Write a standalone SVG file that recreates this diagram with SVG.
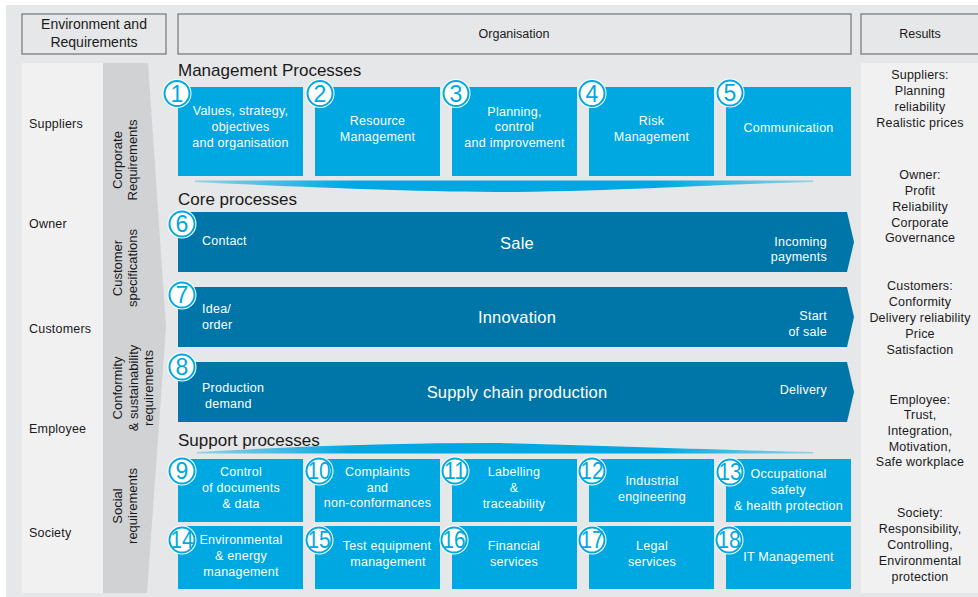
<svg xmlns="http://www.w3.org/2000/svg" width="978" height="597" viewBox="0 0 978 597">
<defs>
<style>
text{font-family:"Liberation Sans",Arial,sans-serif;}
.dk{fill:#1a1a1a;font-size:12.5px;letter-spacing:0.2px;}
.hd{fill:#1a1a1a;font-size:17px;}
.w{fill:#ffffff;font-size:12.5px;text-anchor:middle;letter-spacing:0.25px;}
.wl{fill:#ffffff;font-size:12.5px;letter-spacing:0.25px;}
.wr{fill:#ffffff;font-size:12.5px;text-anchor:end;letter-spacing:0.25px;}
.big{fill:#ffffff;font-size:16.5px;text-anchor:middle;letter-spacing:0.2px;}
.res{fill:#1a1a1a;font-size:12.5px;text-anchor:middle;letter-spacing:0.2px;}
.rot{fill:#1a1a1a;font-size:13px;text-anchor:middle;}
.lb{fill:#00a8e1;}
.db{fill:#0076a8;}
.hbox{fill:#e6e7e8;stroke:#8a8a8a;stroke-width:1.5;}
.co{fill:#ffffff;}
.ci{fill:#ffffff;stroke:#00a8e1;stroke-width:2;}
.num{fill:#00a8e1;font-size:23px;text-anchor:middle;}
</style>
<linearGradient id="band" x1="0" y1="0" x2="1" y2="0">
<stop offset="0" stop-color="#00a8e1" stop-opacity="0.35"/>
<stop offset="0.25" stop-color="#00a8e1" stop-opacity="1"/>
<stop offset="0.75" stop-color="#00a8e1" stop-opacity="1"/>
<stop offset="1" stop-color="#00a8e1" stop-opacity="0.35"/>
</linearGradient>
</defs>

<rect x="0" y="0" width="978" height="597" fill="#ffffff"/>
<rect x="6" y="5" width="972" height="592" fill="#e6e7e8"/>

<g id="headers">
<rect class="hbox" x="22" y="14" width="144" height="40"/>
<text x="94" y="29" style="font-size:14px;fill:#1a1a1a;text-anchor:middle">Environment and</text>
<text x="94" y="47" style="font-size:14px;fill:#1a1a1a;text-anchor:middle">Requirements</text>
<rect class="hbox" x="178" y="14" width="673" height="40"/>
<text x="514" y="38" style="font-size:12.5px;fill:#1a1a1a;text-anchor:middle">Organisation</text>
<rect class="hbox" x="861" y="14" width="125" height="40"/>
<text x="920" y="38" style="font-size:12.5px;fill:#1a1a1a;text-anchor:middle">Results</text>
</g>

<g id="environment">
<rect x="22" y="63" width="81" height="530" fill="#f1f1f2"/>
<polygon points="103,63 148,63 166,327 147,593 103,593" fill="#d1d2d4"/>
<text class="dk" x="29" y="128">Suppliers</text>
<text class="dk" x="29" y="228">Owner</text>
<text class="dk" x="29" y="333">Customers</text>
<text class="dk" x="29" y="433">Employee</text>
<text class="dk" x="29" y="537">Society</text>
<text class="rot" transform="translate(122,160) rotate(-90)">Corporate</text>
<text class="rot" transform="translate(137,160) rotate(-90)">Requirements</text>
<text class="rot" transform="translate(122,268) rotate(-90)">Customer</text>
<text class="rot" transform="translate(137,268) rotate(-90)">specifications</text>
<text class="rot" transform="translate(122,388) rotate(-90)">Conformity</text>
<text class="rot" transform="translate(137.5,388) rotate(-90)">&amp; sustainability</text>
<text class="rot" transform="translate(153,388) rotate(-90)">requirements</text>
<text class="rot" transform="translate(122,506) rotate(-90)">Social</text>
<text class="rot" transform="translate(137,506) rotate(-90)">requirements</text>
</g>

<g id="results">
<rect x="861" y="63" width="117" height="530" fill="#f1f1f2"/>
<text class="res" x="920" y="79">Suppliers:</text>
<text class="res" x="920" y="95">Planning</text>
<text class="res" x="920" y="111">reliability</text>
<text class="res" x="920" y="127">Realistic prices</text>
<text class="res" x="920" y="179">Owner:</text>
<text class="res" x="920" y="195">Profit</text>
<text class="res" x="920" y="211">Reliability</text>
<text class="res" x="920" y="227">Corporate</text>
<text class="res" x="920" y="242">Governance</text>
<text class="res" x="920" y="290">Customers:</text>
<text class="res" x="920" y="306">Conformity</text>
<text class="res" x="920" y="322">Delivery reliability</text>
<text class="res" x="920" y="338">Price</text>
<text class="res" x="920" y="354">Satisfaction</text>
<text class="res" x="920" y="404">Employee:</text>
<text class="res" x="920" y="419">Trust,</text>
<text class="res" x="920" y="435">Integration,</text>
<text class="res" x="920" y="451">Motivation,</text>
<text class="res" x="920" y="466">Safe workplace</text>
<text class="res" x="920" y="517">Society:</text>
<text class="res" x="920" y="533">Responsibility,</text>
<text class="res" x="920" y="549">Controlling,</text>
<text class="res" x="920" y="565">Environmental</text>
<text class="res" x="920" y="581">protection</text>
</g>

<g id="titles">
<text class="hd" x="178" y="76">Management Processes</text>
<text class="hd" x="178" y="205">Core processes</text>
<text class="hd" x="178" y="446">Support processes</text>
</g>

<g id="connectors">
<path d="M195,180.5 L813,180.5 L813,182 C720,184 640,190 515,192 C420,192 300,187 195,182 Z" fill="url(#band)"/>
<path d="M197,453.5 L813,453.5 L813,452 C720,450 620,446 500,443 C400,443 300,446 197,452 Z" fill="url(#band)"/>
</g>

<g id="p1">
<rect class="lb" x="178" y="87" width="125" height="89"/>
<text class="w" x="240.5" y="115">Values, strategy,</text>
<text class="w" x="240.5" y="131">objectives</text>
<text class="w" x="240.5" y="147">and organisation</text>
<circle class="co" cx="177" cy="93.5" r="14.5"/><circle class="ci" cx="177" cy="93.5" r="12.5"/>
<text class="num" x="177" y="101.5">1</text>
</g>
<g id="p2">
<rect class="lb" x="315" y="87" width="125" height="89"/>
<text class="w" x="377.5" y="125">Resource</text>
<text class="w" x="377.5" y="141">Management</text>
<circle class="co" cx="320" cy="93.5" r="14.5"/><circle class="ci" cx="320" cy="93.5" r="12.5"/>
<text class="num" x="320" y="101.5">2</text>
</g>
<g id="p3">
<rect class="lb" x="452" y="87" width="125" height="89"/>
<text class="w" x="514.5" y="116">Planning,</text>
<text class="w" x="514.5" y="131">control</text>
<text class="w" x="514.5" y="147">and improvement</text>
<circle class="co" cx="456" cy="93.5" r="14.5"/><circle class="ci" cx="456" cy="93.5" r="12.5"/>
<text class="num" x="456" y="101.5">3</text>
</g>
<g id="p4">
<rect class="lb" x="589" y="87" width="125" height="89"/>
<text class="w" x="651.5" y="125">Risk</text>
<text class="w" x="651.5" y="141">Management</text>
<circle class="co" cx="592" cy="93.5" r="14.5"/><circle class="ci" cx="592" cy="93.5" r="12.5"/>
<text class="num" x="592" y="101.5">4</text>
</g>
<g id="p5">
<rect class="lb" x="726" y="87" width="125" height="89"/>
<text class="w" x="788.5" y="132">Communication</text>
<circle class="co" cx="730" cy="93" r="14.5"/><circle class="ci" cx="730" cy="93" r="12.5"/>
<text class="num" x="730" y="101">5</text>
</g>

<g id="p6">
<polygon class="db" points="178,212 847,212 854,242 847,272 178,272"/>
<text class="wl" x="202" y="245">Contact</text>
<text class="big" x="517" y="249">Sale</text>
<text class="wr" x="827" y="246">Incoming</text>
<text class="wr" x="827" y="261">payments</text>
<circle class="co" cx="182" cy="224" r="14.5"/><circle class="ci" cx="182" cy="224" r="12.5"/>
<text class="num" x="182" y="232">6</text>
</g>
<g id="p7">
<polygon class="db" points="178,287 847,287 854,317 847,347 178,347"/>
<text class="wl" x="202" y="313">Idea/</text>
<text class="wl" x="202" y="329">order</text>
<text class="big" x="517" y="323">Innovation</text>
<text class="wr" x="827" y="320">Start</text>
<text class="wr" x="827" y="336">of sale</text>
<circle class="co" cx="182" cy="295" r="14.5"/><circle class="ci" cx="182" cy="295" r="12.5"/>
<text class="num" x="182" y="303">7</text>
</g>
<g id="p8">
<polygon class="db" points="178,362 847,362 854,392 847,422 178,422"/>
<text class="wl" x="202" y="392">Production</text>
<text class="wl" x="205" y="408">demand</text>
<text class="big" x="517" y="398">Supply chain production</text>
<text class="wr" x="827" y="394">Delivery</text>
<circle class="co" cx="182" cy="367" r="14.5"/><circle class="ci" cx="182" cy="367" r="12.5"/>
<text class="num" x="182" y="375">8</text>
</g>

<g id="p9">
<rect class="lb" x="178" y="459" width="125" height="63"/>
<text class="w" x="241" y="476">Control</text>
<text class="w" x="241" y="492">of documents</text>
<text class="w" x="241" y="508">&amp; data</text>
<circle class="co" cx="182" cy="471" r="14.5"/><circle class="ci" cx="182" cy="471" r="12.5"/>
<text class="num" x="182" y="479">9</text>
</g>
<g id="p10">
<rect class="lb" x="315" y="459" width="125" height="63"/>
<text class="w" x="377.5" y="476">Complaints</text>
<text class="w" x="377.5" y="492">and</text>
<text class="w" x="377.5" y="507">non-conformances</text>
<circle class="co" cx="319" cy="471" r="14.5"/><circle class="ci" cx="319" cy="471" r="12.5"/>
<text class="num" x="319" y="479" textLength="23" lengthAdjust="spacingAndGlyphs">10</text>
</g>
<g id="p11">
<rect class="lb" x="452" y="459" width="125" height="63"/>
<text class="w" x="514" y="476">Labelling</text>
<text class="w" x="514" y="492">&amp;</text>
<text class="w" x="514" y="508">traceability</text>
<circle class="co" cx="455" cy="471" r="14.5"/><circle class="ci" cx="455" cy="471" r="12.5"/>
<text class="num" x="455" y="479" textLength="22" lengthAdjust="spacingAndGlyphs">11</text>
</g>
<g id="p12">
<rect class="lb" x="589" y="459" width="125" height="63"/>
<text class="w" x="652" y="485">Industrial</text>
<text class="w" x="652" y="501">engineering</text>
<circle class="co" cx="592" cy="471" r="14.5"/><circle class="ci" cx="592" cy="471" r="12.5"/>
<text class="num" x="592" y="479" textLength="23" lengthAdjust="spacingAndGlyphs">12</text>
</g>
<g id="p13">
<rect class="lb" x="726" y="459" width="125" height="63"/>
<text class="w" x="788.5" y="478">Occupational</text>
<text class="w" x="788.5" y="494">safety</text>
<text class="w" x="788.5" y="510">&amp; health protection</text>
<circle class="co" cx="730" cy="472" r="14.5"/><circle class="ci" cx="730" cy="472" r="12.5"/>
<text class="num" x="730" y="480" textLength="23" lengthAdjust="spacingAndGlyphs">13</text>
</g>
<g id="p14">
<rect class="lb" x="178" y="526" width="125" height="63"/>
<text class="w" x="241" y="544">Environmental</text>
<text class="w" x="241" y="560">&amp; energy</text>
<text class="w" x="241" y="576">management</text>
<circle class="co" cx="182" cy="540" r="14.5"/><circle class="ci" cx="182" cy="540" r="12.5"/>
<text class="num" x="182" y="548" textLength="23" lengthAdjust="spacingAndGlyphs">14</text>
</g>
<g id="p15">
<rect class="lb" x="315" y="526" width="125" height="63"/>
<text class="w" x="387" y="550">Test equipment</text>
<text class="w" x="388" y="566">management</text>
<circle class="co" cx="319" cy="540" r="14.5"/><circle class="ci" cx="319" cy="540" r="12.5"/>
<text class="num" x="319" y="548" textLength="23" lengthAdjust="spacingAndGlyphs">15</text>
</g>
<g id="p16">
<rect class="lb" x="452" y="526" width="125" height="63"/>
<text class="w" x="514" y="550">Financial</text>
<text class="w" x="514" y="566">services</text>
<circle class="co" cx="454" cy="540" r="14.5"/><circle class="ci" cx="454" cy="540" r="12.5"/>
<text class="num" x="454" y="548" textLength="23" lengthAdjust="spacingAndGlyphs">16</text>
</g>
<g id="p17">
<rect class="lb" x="589" y="526" width="125" height="63"/>
<text class="w" x="652" y="550">Legal</text>
<text class="w" x="652" y="566">services</text>
<circle class="co" cx="592" cy="540" r="14.5"/><circle class="ci" cx="592" cy="540" r="12.5"/>
<text class="num" x="592" y="548" textLength="23" lengthAdjust="spacingAndGlyphs">17</text>
</g>
<g id="p18">
<rect class="lb" x="726" y="526" width="125" height="63"/>
<text class="w" x="788.5" y="561">IT Management</text>
<circle class="co" cx="729" cy="540" r="14.5"/><circle class="ci" cx="729" cy="540" r="12.5"/>
<text class="num" x="729" y="548" textLength="23" lengthAdjust="spacingAndGlyphs">18</text>
</g>
</svg>
